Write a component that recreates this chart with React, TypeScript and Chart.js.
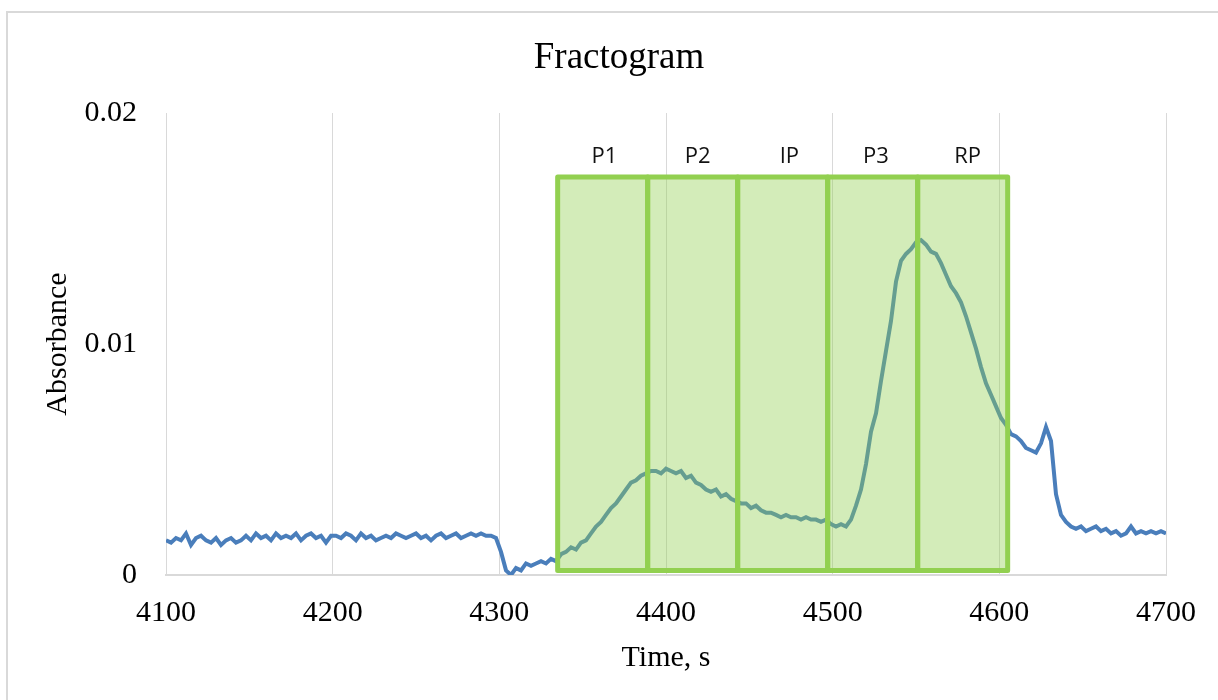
import React, { useEffect, useRef } from "react";
import { Chart, registerables } from "chart.js";

Chart.register(...registerables);

// Sampling: baseline starts at 4100 s, one reading every 3 s
const startTime = 4100;
const sampleStep = 3;

// Absorbance readings in units of 1e-4
const absorbanceE4 = [
  15, 14, 16, 15, 18, 13, 16, 17, 15, 14,
  16, 13, 15, 16, 14, 15, 17, 15, 18, 16,
  17, 15, 18, 16, 17, 16, 18, 15, 17, 18,
  16, 17, 14, 17, 17, 16, 18, 17, 15, 18,
  16, 17, 15, 16, 17, 16, 18, 17, 16, 17,
  18, 16, 17, 15, 17, 18, 16, 17, 18, 16,
  17, 18, 17, 18, 17, 17, 16,
  10, 2, 0, 3, 2, 5, 4, 5, 6, 5,
  7, 6, 9, 10, 12, 11, 14, 15, 18, 21,
  23, 26, 29, 31, 34, 37, 40, 41, 43, 44,
  45, 45, 44, 46, 45, 44, 45, 42, 43, 40,
  39, 37, 36, 37, 34, 35, 33, 32, 31, 31,
  29, 30, 28, 27, 27, 26, 25, 26, 25, 25,
  24, 25, 24, 24, 23, 24, 22, 21, 22, 21,
  24, 30, 37, 48, 62, 70, 84, 97, 110, 127,
  136, 139, 141, 144, 145, 143, 140, 139, 135, 130,
  125, 122, 118, 112, 105, 98, 90, 83, 78, 73,
  68, 65, 61, 60, 58, 55, 54, 53, 57, 64,
  58, 35, 26, 23, 21, 20, 21, 19, 20, 21,
  19, 20, 18, 19, 17, 18, 21, 18, 19, 18,
  19, 18, 19, 18,
];

// Fraction windows (s)
const fractionNames = ["P1", "P2", "IP", "P3", "RP"];
const fractionEdges = [4335, 4389, 4443, 4497, 4551, 4605];
const fractionLabelTimes = [4363, 4419, 4474, 4526, 4581];
const fractionTop = 0.01723;
const fractionBottom = 0.0002;
const fractionLabelLevel = 0.0181;

const xTicks = [4100, 4200, 4300, 4400, 4500, 4600, 4700];
const yTicks = [0, 0.01, 0.02];

const SERIF = "'Liberation Serif', 'Times New Roman', serif";

export default function App() {
  const canvasRef = useRef<HTMLCanvasElement | null>(null);

  useEffect(() => {
    const canvas = canvasRef.current;
    if (!canvas) return;

    const points = absorbanceE4.map((v, i) => ({
      x: startTime + i * sampleStep,
      y: v / 10000,
    }));

    const fractionsPlugin = {
      id: "fractions",
      afterDatasetsDraw(chart: any) {
        const ctx = chart.ctx;
        const xs = chart.scales.x;
        const ys = chart.scales.y;
        const yTop = ys.getPixelForValue(fractionTop);
        const yBot = ys.getPixelForValue(fractionBottom);
        ctx.save();
        ctx.fillStyle = "rgba(146,208,80,0.4)";
        for (let i = 0; i < fractionNames.length; i++) {
          const a = xs.getPixelForValue(fractionEdges[i]);
          const b = xs.getPixelForValue(fractionEdges[i + 1]);
          ctx.fillRect(a, yTop, b - a, yBot - yTop);
        }
        ctx.strokeStyle = "#92d050";
        ctx.lineWidth = 5;
        ctx.lineJoin = "round";
        for (let i = 0; i < fractionNames.length; i++) {
          const a = xs.getPixelForValue(fractionEdges[i]);
          const b = xs.getPixelForValue(fractionEdges[i + 1]);
          ctx.strokeRect(a, yTop, b - a, yBot - yTop);
        }
        ctx.fillStyle = "#111";
        ctx.font = "22px 'Open Sans', 'Noto Sans', sans-serif";
        ctx.textAlign = "center";
        ctx.textBaseline = "middle";
        const ly = ys.getPixelForValue(fractionLabelLevel);
        for (let i = 0; i < fractionNames.length; i++) {
          ctx.fillText(fractionNames[i], xs.getPixelForValue(fractionLabelTimes[i]), ly);
        }
        ctx.restore();
      },
      afterDraw(chart: any) {
        const ctx = chart.ctx;
        const area = chart.chartArea;
        ctx.save();
        ctx.fillStyle = "#000";
        ctx.textAlign = "center";
        ctx.textBaseline = "middle";
        ctx.font = `37px ${SERIF}`;
        ctx.fillText("Fractogram", 619, 58);
        ctx.font = `30px ${SERIF}`;
        ctx.fillText("Time, s", (area.left + area.right) / 2, 658);
        ctx.translate(58, (area.top + area.bottom) / 2);
        ctx.rotate(-Math.PI / 2);
        ctx.fillText("Absorbance", 0, 0);
        ctx.restore();
      },
    };

    const chart = new Chart(canvas, {
      type: "line",
      data: {
        datasets: [
          {
            label: "Absorbance",
            data: points,
            borderColor: "#4a7ebb",
            borderWidth: 4,
            pointRadius: 0,
            tension: 0,
            fill: false,
          },
        ],
      },
      options: {
        animation: false,
        responsive: false,
        maintainAspectRatio: false,
        layout: { padding: { top: 113, right: 52, left: 0, bottom: 0 } },
        plugins: {
          legend: { display: false },
          title: { display: false },
          tooltip: { enabled: false },
        },
        scales: {
          x: {
            type: "linear",
            min: 4100,
            max: 4700,
            afterBuildTicks: (scale: any) => {
              scale.ticks = xTicks.map((v) => ({ value: v }));
            },
            afterFit: (scale: any) => {
              scale.height = 125;
            },
            grid: {
              color: "#d9d9d9",
              lineWidth: 1,
              drawTicks: false,
            },
            border: { display: true, color: "#d9d9d9", width: 2 },
            ticks: {
              padding: 20,
              color: "#000",
              font: { family: SERIF, size: 30 },
              maxRotation: 0,
              callback: (v: any) => String(v),
            },
          },
          y: {
            type: "linear",
            min: 0,
            max: 0.02,
            afterBuildTicks: (scale: any) => {
              scale.ticks = yTicks.map((v) => ({ value: v }));
            },
            afterFit: (scale: any) => {
              scale.width = 166;
            },
            grid: { display: false, drawTicks: false },
            border: { display: false },
            ticks: {
              padding: 29,
              color: "#000",
              font: { family: SERIF, size: 30 },
              callback: (v: any) => String(v),
            },
          },
        },
      },
      plugins: [fractionsPlugin],
    });

    return () => chart.destroy();
  }, []);

  return (
    <div style={{ position: "fixed", left: 0, top: 0, width: 1218, height: 700, background: "#fff", overflow: "hidden" }}>
      <div
        style={{
          position: "absolute",
          left: 6,
          top: 11,
          width: 1300,
          height: 800,
          borderTop: "2px solid #d9d9d9",
          borderLeft: "2px solid #d9d9d9",
        }}
      />
      <canvas
        ref={canvasRef}
        width={1218}
        height={700}
        style={{ position: "absolute", left: 0, top: 0, width: 1218, height: 700 }}
      />
    </div>
  );
}
